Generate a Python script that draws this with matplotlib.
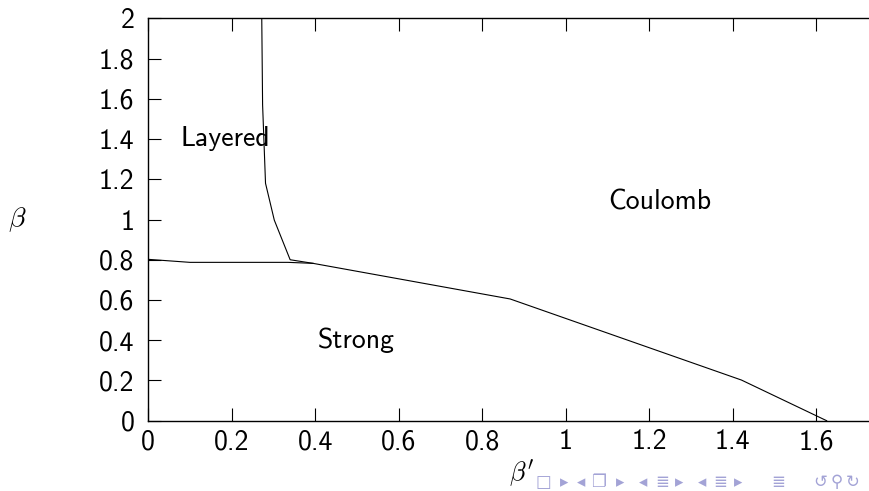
import matplotlib
matplotlib.use("Agg")
import matplotlib.pyplot as plt

# Data
boundary_low_x = [0.0, 0.10, 0.335, 0.395]
boundary_low_y = [0.802, 0.787, 0.787, 0.782]
boundary_main_x = [0.272, 0.274, 0.281, 0.302, 0.340, 0.395, 0.867, 1.421, 1.625]
boundary_main_y = [2.0, 1.57, 1.18, 0.997, 0.80, 0.782, 0.605, 0.202, 0.0]
x_ticks = [0, 0.2, 0.4, 0.6, 0.8, 1.0, 1.2, 1.4, 1.6]
x_tick_labels = ["0", "0.2", "0.4", "0.6", "0.8", "1", "1.2", "1.4", "1.6"]
y_ticks = [0, 0.2, 0.4, 0.6, 0.8, 1.0, 1.2, 1.4, 1.6, 1.8, 2.0]
y_tick_labels = ["0", "0.2", "0.4", "0.6", "0.8", "1", "1.2", "1.4", "1.6", "1.8", "2"]
regions = ["Layered", "Coulomb", "Strong"]
region_x = [0.184, 1.225, 0.498]
region_y = [1.405, 1.087, 0.40]

W, H = 869, 491
fig = plt.figure(figsize=(W / 100, H / 100), dpi=100)
left, right, bottom, top = 148.2, 869, 420.7, 18.3
ax = fig.add_axes([left / W, 1 - bottom / H, (right - left) / W, (bottom - top) / H])

ax.plot(boundary_low_x, boundary_low_y, color="black", lw=0.8)
ax.plot(boundary_main_x, boundary_main_y, color="black", lw=0.8)

ax.set_xlim(0, (right - left) / 417.5)
ax.set_ylim(0, 2)
ax.spines["right"].set_visible(False)
for s in ["left", "bottom", "top"]:
    ax.spines[s].set_linewidth(1.0)

font = "cmss10"
fs = 20
ax.set_xticks(x_ticks)
ax.set_xticklabels(x_tick_labels, fontfamily=font, fontsize=fs)
ax.set_yticks(y_ticks)
ax.set_yticklabels(y_tick_labels, fontfamily=font, fontsize=fs)
ax.tick_params(direction="in", length=9.5, width=0.8, top=True, right=False)
ax.tick_params(axis="x", pad=6)
ax.tick_params(axis="y", pad=10)

for name, x, y in zip(regions, region_x, region_y):
    ax.text(x, y, name, fontfamily=font, fontsize=fs, ha="center", va="center")

plt.rcParams["mathtext.fontset"] = "cm"
fig.text(17 / W, 1 - 220 / H, r"$\beta$", fontsize=20, ha="center", va="center")
fig.text(521 / W, 1 - 473 / H, r"$\beta'$", fontsize=19, ha="center", va="center")

nav_color = "#a3a3d6"
nav = [(543, "□"), (564, "▸"), (581, "◂"), (598, "❐"), (620, "▸"), (643, "◂"),
       (662, "≣"), (679, "▸"), (702, "◂"), (720, "≣"), (738, "▸"), (778, "≣"),
       (820, "↺"), (837, "⚲"), (853, "↻")]
for px, ch in nav:
    fig.text(px / W, 1 - 482 / H, ch, fontsize=12, color=nav_color, ha="center", va="center",
             family=["DejaVu Sans", "Noto Sans", "Noto Sans CJK SC"])

fig.savefig("out.png", dpi=100)
